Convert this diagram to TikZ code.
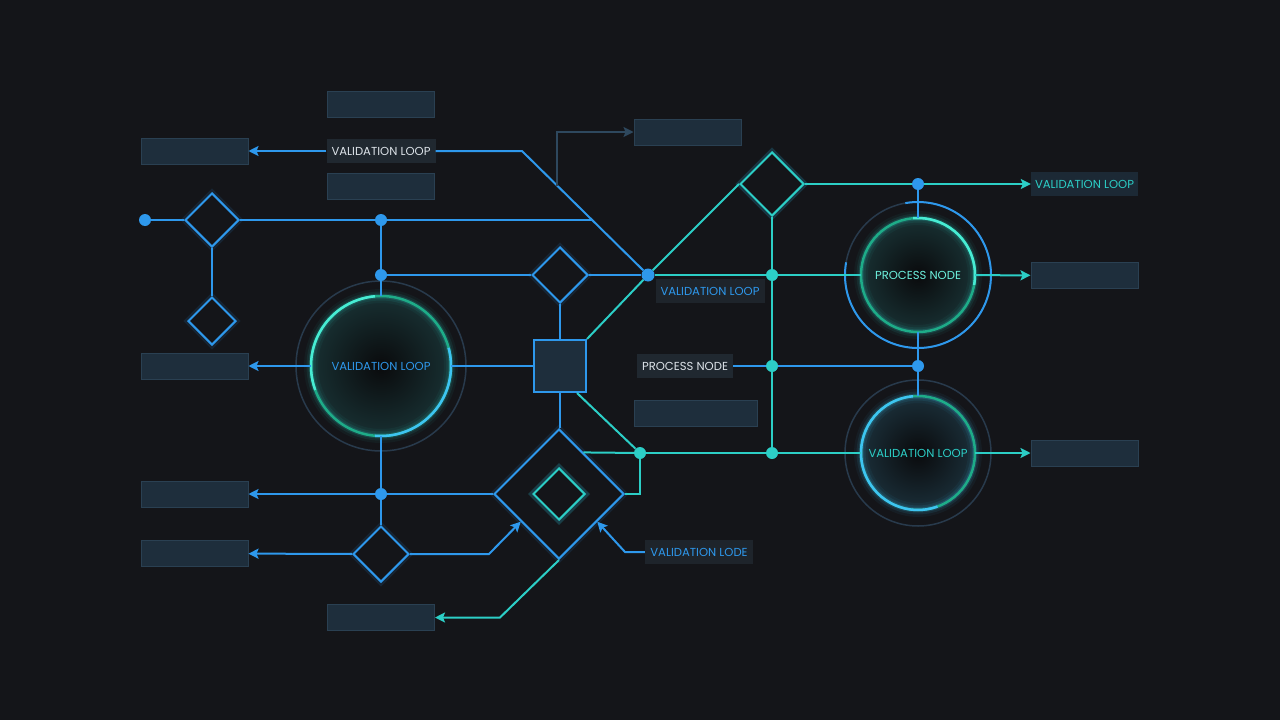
\documentclass[tikz,border=0pt]{standalone}
\usepackage{fontspec}
\setmainfont{Poppins}
\usepackage{tikz}
\usetikzlibrary{
    positioning,      % Relative positioning
    shapes.geometric, % Diamonds
    arrows.meta,      % Arrow tips
    calc              % Coordinate calculations
}
\definecolor{bgc}{RGB}{20,21,25}
\definecolor{lblue}{RGB}{46,152,236}
\definecolor{lteal}{RGB}{44,206,198}
\definecolor{boxfill}{RGB}{30,46,60}
\definecolor{boxline}{RGB}{42,64,82}
\definecolor{lblfill}{RGB}{32,40,48}
\definecolor{txtw}{RGB}{220,226,232}
\definecolor{ringdim}{RGB}{40,58,76}
\definecolor{ringgreen}{RGB}{30,172,136}
\definecolor{ringcyan}{RGB}{72,236,212}
\definecolor{ringblue}{RGB}{62,196,242}
\definecolor{dimline}{RGB}{46,72,94}

\tikzset{
    box/.style={draw=boxline, fill=boxfill, line width=1pt,
        minimum width=107pt, minimum height=26pt, inner sep=0pt},
    lbl/.style={fill=lblfill, minimum height=24pt, inner sep=0pt,
        font=\fontsize{11.6}{13}\selectfont, text=txtw},
    dia/.style={diamond, draw=lblue, line width=2pt, fill=bgc, inner sep=0pt,
        preaction={draw=lblue, line width=7pt, draw opacity=0.12}},
    dot/.style={circle, fill=lblue, inner sep=0pt, minimum size=12pt},
    tdot/.style={dot, fill=lteal},
    hub/.style={circle, inner sep=0pt, outer sep=0pt,
        font=\fontsize{11.6}{13}\selectfont},
    wire/.style={lblue, line width=2pt},
    twire/.style={lteal, line width=2pt},
    arr/.style={-{Stealth[length=10pt,width=10pt,inset=2pt]}}
}

\begin{document}
\begin{tikzpicture}[x=1pt, y=-1pt]
\fill[bgc] (0,0) rectangle (1280,720);
\useasboundingbox (0,0) rectangle (1280,720);

% hub rings with glow
\shade[inner color=bgc!50!black, outer color=lteal!14!bgc] (381,366) circle (69pt);
\draw[ringdim, line width=1.5pt] (381,366) circle (85pt);
\foreach \w/\o in {14/0.05, 9/0.09, 5/0.16}
    \draw[lteal, line width=\w pt, opacity=\o] (381,366) circle (70pt);
\draw[ringgreen, line width=2.5pt] (381,366) circle (70pt);
\draw[ringcyan, line width=2.5pt] (381,366) ++(95:70pt) arc[start angle=95, end angle=200, radius=70pt];
\draw[ringblue, line width=2.5pt] (381,366) ++(-95:70pt) arc[start angle=-95, end angle=15, radius=70pt];

\shade[inner color=bgc!50!black, outer color=lteal!14!bgc] (918,275) circle (56pt);
\draw[ringdim, line width=1.5pt] (918,275) circle (73pt);
\draw[lblue, line width=2pt] (918,275) ++(170:73pt) arc[start angle=170, end angle=460, radius=73pt];
\foreach \w/\o in {14/0.05, 9/0.09, 5/0.16}
    \draw[lteal, line width=\w pt, opacity=\o] (918,275) circle (57pt);
\draw[ringgreen, line width=2.5pt] (918,275) circle (57pt);
\draw[ringcyan, line width=2.5pt] (918,275) ++(-10:57pt) arc[start angle=-10, end angle=95, radius=57pt];

\shade[inner color=bgc!50!black, outer color=ringblue!14!bgc] (918,453) circle (56pt);
\draw[ringdim, line width=1.5pt] (918,453) circle (73pt);
\foreach \w/\o in {14/0.05, 9/0.09, 5/0.16}
    \draw[ringblue, line width=\w pt, opacity=\o] (918,453) circle (57pt);
\draw[ringgreen, line width=2.5pt] (918,453) circle (57pt);
\draw[ringblue, line width=2.5pt] (918,453) ++(95:57pt) arc[start angle=95, end angle=290, radius=57pt];

% empty boxes
\node[box] (bA) at (381,104.5) {};
\node[box] (bB) at (381,186) {};
\node[box] (bL1) at (194.5,151) {};
\node[box] (bL2) at (194.5,366) {};
\node[box] (bL3) at (194.5,494) {};
\node[box] (bL4) at (194.5,553.5) {};
\node[box] (bBot) at (381,617.5) {};
\node[box] (bTop) at (687.5,132) {};
\node[box, minimum width=123pt] (bMid) at (695.5,413.5) {};
\node[box] (bR2) at (1084.5,275.5) {};
\node[box] (bR3) at (1084.5,453) {};

% labels
\node[lbl, minimum width=109pt] (lTop) at (381,151) {VALIDATION LOOP};
\node[lbl, minimum width=109pt, fill=lblfill!80!bgc, text=lblue] (lMid) at (710,291) {VALIDATION LOOP};
\node[lbl, minimum width=96pt] (lProc) at (685,366) {PROCESS NODE};
\node[lbl, minimum width=107pt, fill=boxfill!80!bgc, text=lteal] (lR1) at (1084.5,184) {VALIDATION LOOP};
\node[lbl, minimum width=108pt, fill=lblfill!80!bgc, text=lblue] (lLode) at (699,552) {VALIDATION LODE};

% hubs
\node[hub, minimum size=140pt, text=lblue] (c1) at (381,366) {VALIDATION LOOP};
\node[hub, minimum size=114pt, text=ringcyan!80!white] (c2) at (918,275) {PROCESS NODE};
\node[hub, minimum size=114pt, text=lteal] (c3) at (918,453) {VALIDATION LOOP};

% diamonds and square
\node[dia, minimum width=54pt, minimum height=54pt] (d1) at (212,220) {};
\node[dia, minimum width=48pt, minimum height=48pt] (d2) at (212,321) {};
\node[dia, minimum width=56pt, minimum height=56pt] (d3) at (560,275) {};
\node[dia, draw=lteal, preaction={draw=lteal, line width=7pt, draw opacity=0.1},
    minimum width=64pt, minimum height=64pt] (d4) at (772,184) {};
\node[dia, minimum width=130pt, minimum height=130pt, preaction={}] (d5) at (559,494) {};
\node[dia, draw=lteal, preaction={draw=lteal, line width=8pt, draw opacity=0.15},
    minimum width=52pt, minimum height=52pt] (d6) at (559,494) {};
\node[dia, minimum width=56pt, minimum height=56pt, preaction={}] (d7) at (381,554) {};
\node[draw=lblue, line width=2pt, fill=boxfill, inner sep=0pt, minimum size=52pt] (s1) at (560,366) {};

% junction dots
\node[dot] (p0) at (145,220) {};
\node[dot] (p1) at (381,220) {};
\node[dot] (p2) at (381,275) {};
\node[dot] (p3) at (918,184) {};
\node[dot] (p4) at (381,494) {};
\node[dot, minimum size=13pt] (j1) at (648,275) {};
\node[tdot] (j2) at (772,275) {};
\node[tdot] (j3) at (772,366) {};
\node[tdot] (j4) at (772,453) {};
\node[dot] (j5) at (918,366) {};
\node[tdot] (j6) at (640,453) {};
\coordinate (k1) at (522,151);
\coordinate (k2) at (592,220);
\coordinate (k3) at (557,185.5);

% blue wiring
\draw[wire, arr] (lTop) -- (bL1);
\draw[wire] (lTop) -- (k1) -- (j1);
\draw[wire] (p0) -- (d1) -- (p1) -- (k2);
\draw[wire] (d1) -- (d2);
\draw[wire] (p1) -- (p2) -- (c1);
\draw[wire] (p2) -- (d3) -- (j1);
\draw[wire] (d3) -- (s1);
\draw[wire] (c1) -- (s1);
\draw[wire, arr] (c1) -- (bL2);
\draw[wire] (s1) -- (s1 |- d5.north);
\draw[wire] (c1) -- (p4) -- (d7);
\draw[wire, arr] (p4) -- (bL3);
\draw[wire] (p4) -- (d5);
\draw[wire, arr] (d7) -- (bL4);
\draw[wire, arr] (d7) -- (489,554) -- ($(d5.west)!0.42!(d5.south)$);
\draw[wire, arr] (lLode) -- (625,552) -- ($(d5.east)!0.42!(d5.south)$);
\draw[wire] (p3) -- (c2);
\draw[wire] (c2) -- (j5) -- (c3);
\draw[wire] (lProc) -- (j3) -- (j5);
\draw[dimline, line width=1.5pt, arr] (k3) -- (557,132) -- (bTop);

% teal wiring
\draw[twire] (s1.north east) -- (j1) -- (d4.west);
\draw[twire] (j1) -- (j2) -- (c2);
\draw[twire] (d4) -- (p3);
\draw[twire, arr] (p3) -- (lR1);
\draw[twire] (d4) -- (j2) -- (j3) -- (j4);
\draw[twire, arr] (c2) -- (bR2);
\draw[twire, arr] (c3) -- (bR3);
\draw[twire] ([xshift=17pt]s1.south) -- (j6);
\draw[twire] (j6) -- (j4) -- (c3);
\draw[twire] (j6) -- ($(d5.north)!0.37!(d5.east)$);
\draw[twire] (j6) |- (d5.east);
\draw[twire, arr] (d5.south) -- (500,617.5) -- (bBot);
\end{tikzpicture}
\end{document}
